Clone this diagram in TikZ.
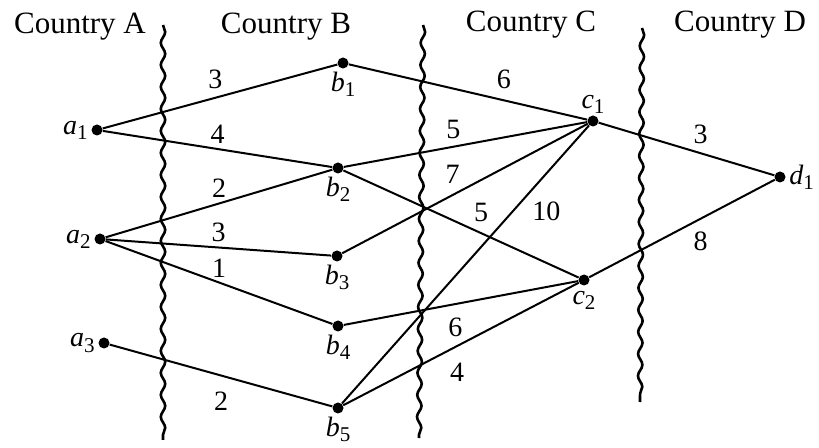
\documentclass[tikz,border=0pt]{standalone}
\usepackage{fontspec}
\setmainfont{Liberation Serif}
\usetikzlibrary{decorations.pathmorphing}
\newcommand{\vlab}[2]{\textit{#1}\raisebox{-0.4ex}{\fontsize{10.5}{12}\selectfont #2}}

\begin{document}
\begin{tikzpicture}[x=0.5pt, y=-0.5pt, font=\fontsize{14}{16}\selectfont,
  vtx/.style={circle, fill=black, inner sep=0pt, minimum size=5.5pt, label distance=1pt},
  edge/.style={line width=1pt},
  wt/.style={inner sep=1pt},
  land/.style={font=\fontsize{15.5}{18}\selectfont},
  every label/.style={font=\fontsize{14}{16}\selectfont, inner sep=1.5pt},
  border/.style={line width=1.3pt, decorate,
                 decoration={snake, segment length=11pt, amplitude=1.1pt}}]
\useasboundingbox (0,0) rectangle (819,448);
\node[land] (ca) at (80,27) {Country A};
\node[land] (cb) at (286,27) {Country B};
\node[land] (cc) at (531,25) {Country C};
\node[land] (cd) at (740,25) {Country D};
\coordinate (s1t) at (163,25);  \coordinate (s1b) at (163,440);
\coordinate (s2t) at (423,25);  \coordinate (s2b) at (419,438);
\coordinate (s3t) at (642,28);  \coordinate (s3b) at (640,402);
\draw[border] (s1t) -- (s1b);
\draw[border] (s2t) -- (s2b);
\draw[border] (s3t) -- (s3b);
\node[vtx, label=left:\vlab{a}{1}] (a1) at (97,130) {};
\node[vtx, label=left:\vlab{a}{2}] (a2) at (100,239) {};
\node[vtx, label=left:\vlab{a}{3}] (a3) at (104,343) {};
\node[vtx, label=below:\vlab{b}{1}] (b1) at (343,63) {};
\node[vtx, label=below:\vlab{b}{2}] (b2) at (338,168) {};
\node[vtx, label=below:\vlab{b}{3}] (b3) at (337,256) {};
\node[vtx, label=below:\vlab{b}{4}] (b4) at (338,326) {};
\node[vtx, label=below:\vlab{b}{5}] (b5) at (338,408) {};
\node[vtx, label={[label distance=-1pt]above:\vlab{c}{1}}] (c1) at (593,121) {};
\node[vtx, label={[label distance=1pt]below:\vlab{c}{2}}] (c2) at (584,280) {};
\node[vtx, label=right:\vlab{d}{1}] (d1) at (780,177) {};
\draw[edge] (a1) -- node[wt, pos=.48, above=3pt] (w1) {3} (b1);
\draw[edge] (a1) -- node[wt, pos=.5, above=1pt] (w2) {4} (b2);
\draw[edge] (a2) -- node[wt, pos=.5, above=1.5pt] (w3) {2} (b2);
\draw[edge] (a2) -- node[wt, pos=.5, above=1.5pt] (w4) {3} (b3);
\draw[edge] (a2) -- node[wt, pos=.5, above=1pt] (w5) {1} (b4);
\draw[edge] (a3) -- node[wt, pos=.5, below=6.5pt] (w6) {2} (b5);
\draw[edge] (b1) -- node[wt, pos=.65, above=4.5pt] (w7) {6} (c1);
\draw[edge] (b2) -- node[wt, pos=.45, above=2.5pt] (w8) {5} (c1);
\draw[edge] (b3) -- node[wt, pos=.45, above=4pt] (w9) {7} (c1);
\draw[edge] (b5) -- node[wt, pos=.69, right=8.5pt] (w10) {10} (c1);
\draw[edge] (b2) -- node[wt, pos=.585, above=4pt] (w11) {5} (c2);
\draw[edge] (b4) -- node[wt, pos=.476, below=5.5pt] (w12) {6} (c2);
\draw[edge] (b5) -- node[wt, pos=.484, below=7pt] (w13) {4} (c2);
\draw[edge] (c1) -- node[wt, pos=.58, above=3pt] (w14) {3} (d1);
\draw[edge] (c2) -- node[wt, pos=.6, below=5pt] (w15) {8} (d1);
\end{tikzpicture}
\end{document}
